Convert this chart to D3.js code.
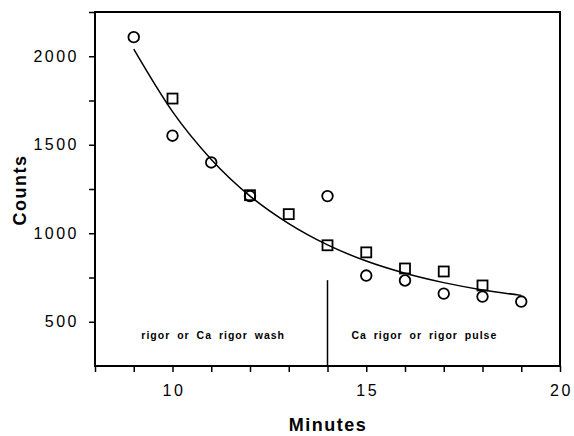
<!DOCTYPE html>
<html lang="en">
<head>
    <meta charset="UTF-8">
    <title>Counts vs minutes</title>
    <script src="https://d3js.org/d3.v7.min.js"></script>
    <style>
        body {
            margin: 0;
            padding: 0;
            background: #fff;
        }
        svg text {
            font-family: "Liberation Sans", Arial, Helvetica, sans-serif;
            fill: #000;
        }
    </style>
</head>
<body>
<svg id="chart" width="574" height="436"></svg>
<script>
    // values
    var circleMinutes = [9, 10, 11, 12, 14, 15, 16, 17, 18, 19];
    var circleCounts = [2108, 1551, 1400, 1210, 1210, 761, 733, 659, 642, 614];

    var squareMinutes = [10, 12, 13, 14, 15, 16, 17, 18];
    var squareCounts = [1761, 1215, 1108, 932, 892, 801, 784, 705];

    // fitted line, sampled at each minute
    var fitMinutes = [9, 10, 11, 12, 13, 14, 15, 16, 17, 18, 19];
    var fitCounts = [2040, 1687, 1417, 1210, 1054, 934, 843, 774, 721, 680, 649];

    var xTicks = [10, 15, 20];
    var yTicks = [500, 1000, 1500, 2000];

    var dividerMinute = 14;
    var dividerTop = 735;
    var leftLabel = 'rigor or Ca rigor wash';
    var rightLabel = 'Ca rigor or rigor pulse';

    (function () {
        var svg = d3.select('#chart');
        var mLeft = 95, mRight = 560, mTop = 12, mBottom = 366;

        var x = d3.scaleLinear().domain([8, 20]).range([mLeft, mRight]);
        var y = d3.scaleLinear().domain([250, 2250]).range([mBottom, mTop]);

        // frame
        svg.append('rect')
            .attr('x', mLeft).attr('y', mTop)
            .attr('width', mRight - mLeft).attr('height', mBottom - mTop)
            .attr('fill', 'none').attr('stroke', '#000').attr('stroke-width', 2);

        // x axis
        var xAxis = svg.append('g')
            .attr('transform', 'translate(0,' + mBottom + ')')
            .call(d3.axisBottom(x).tickValues(d3.range(8, 21)).tickSize(6)
                .tickFormat(function (d) { return xTicks.indexOf(d) >= 0 ? d : ''; }));
        xAxis.select('.domain').remove();
        xAxis.selectAll('line').attr('stroke-width', 1.5);
        xAxis.selectAll('text')
            .attr('font-size', 16).attr('letter-spacing', 2.5).attr('dy', '1.3em')
            .attr('dx', 1);

        // y axis
        var yAxis = svg.append('g')
            .attr('transform', 'translate(' + mLeft + ',0)')
            .call(d3.axisLeft(y).tickValues(d3.range(500, 2251, 250)).tickSize(6)
                .tickFormat(function (d) { return yTicks.indexOf(d) >= 0 ? d : ''; }));
        yAxis.select('.domain').remove();
        yAxis.selectAll('line').attr('stroke-width', 1.5);
        yAxis.selectAll('text')
            .attr('font-size', 16).attr('letter-spacing', 2.5).attr('x', -16);

        // axis titles
        svg.append('text')
            .attr('x', 328).attr('y', 431)
            .attr('text-anchor', 'middle')
            .attr('font-size', 18).attr('font-weight', 'bold').attr('letter-spacing', 1.5)
            .text('Minutes');
        svg.append('text')
            .attr('transform', 'translate(26,190) rotate(-90)')
            .attr('text-anchor', 'middle')
            .attr('font-size', 18).attr('font-weight', 'bold').attr('letter-spacing', 1.5)
            .text('Counts');

        // fitted curve
        var fit = fitMinutes.map(function (m, i) { return [m, fitCounts[i]]; });
        svg.append('path')
            .datum(fit)
            .attr('fill', 'none').attr('stroke', '#000').attr('stroke-width', 1.5)
            .attr('d', d3.line()
                .x(function (d) { return x(d[0]); })
                .y(function (d) { return y(d[1]); })
                .curve(d3.curveMonotoneX));

        // markers
        svg.append('g').selectAll('circle')
            .data(circleMinutes.map(function (m, i) { return [m, circleCounts[i]]; }))
            .enter().append('circle')
            .attr('cx', function (d) { return x(d[0]); })
            .attr('cy', function (d) { return y(d[1]); })
            .attr('r', 5.3)
            .attr('fill', 'none').attr('stroke', '#000').attr('stroke-width', 1.8);

        svg.append('g').selectAll('rect')
            .data(squareMinutes.map(function (m, i) { return [m, squareCounts[i]]; }))
            .enter().append('rect')
            .attr('x', function (d) { return x(d[0]) - 5; })
            .attr('y', function (d) { return y(d[1]) - 5; })
            .attr('width', 10).attr('height', 10)
            .attr('fill', 'none').attr('stroke', '#000').attr('stroke-width', 1.8);

        // divider and phase labels
        svg.append('line')
            .attr('x1', x(dividerMinute)).attr('x2', x(dividerMinute))
            .attr('y1', y(dividerTop)).attr('y2', mBottom)
            .attr('stroke', '#000').attr('stroke-width', 1.5);

        svg.selectAll('.phase')
            .data([[11.05, leftLabel], [16.5, rightLabel]])
            .enter().append('text')
            .attr('class', 'phase')
            .attr('x', function (d) { return x(d[0]); })
            .attr('y', y(400))
            .attr('text-anchor', 'middle')
            .attr('font-size', 10.5).attr('font-weight', 'bold')
            .attr('letter-spacing', 1).attr('word-spacing', 3)
            .text(function (d) { return d[1]; });
    })();
</script>
</body>
</html>
